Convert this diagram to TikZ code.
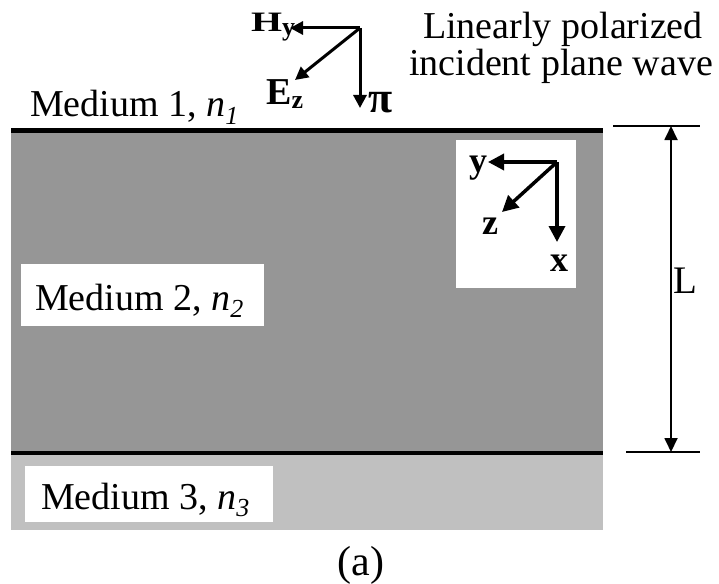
\documentclass[tikz,border=0pt]{standalone}
\usepackage{fontspec}
\setmainfont{Liberation Serif}
\usetikzlibrary{arrows.meta}
\definecolor{midgray}{RGB}{150,150,150}
\definecolor{palegray}{RGB}{192,192,192}
\newcommand{\lowidx}[1]{\raisebox{-0.2em}{\fontsize{26}{26}\selectfont #1}}
\newcommand{\bsub}[1]{\raisebox{-0.08em}{\fontsize{26}{26}\selectfont\bfseries #1}}
\begin{document}
\begin{tikzpicture}[x=1pt,y=-1pt,
  big/.style={font=\fontsize{38}{44}\selectfont, inner sep=0pt},
  lab/.style={font=\fontsize{36}{36}\selectfont\bfseries, inner sep=0pt},
  toplab/.style={font=\fontsize{38}{38}\selectfont\bfseries, inner sep=0pt},
  vec/.style={line width=3.5pt, -{Triangle[length=16pt,width=16pt]}},
  vecs/.style={line width=3pt, -{Triangle[length=13pt,width=13pt]}},
  dimline/.style={line width=1.5pt},
  dimarrow/.style={line width=1.8pt, {Triangle[length=14pt,width=13pt]}-{Triangle[length=14pt,width=13pt]}}]
\useasboundingbox (0,0) rectangle (719,583);
% media
\fill[midgray] (11,131) rectangle (603,452);
\fill[palegray] (11,452) rectangle (603,530);
\draw[line width=4.5pt] (11,130.5) -- (603,130.5);
\draw[line width=4pt] (11,452.5) -- (603,452.5);
% white label boxes
\fill[white] (21,264) rectangle (264,326);
\fill[white] (25,466) rectangle (273,522);
\fill[white] (456,140) rectangle (576,288);
% medium labels
\node[big, anchor=base west] (m1) at (30,117) {Medium 1, \textit{n\lowidx{1}}};
\node[big, anchor=base west] (m2) at (35,310) {Medium 2, \textit{n\lowidx{2}}};
\node[big, anchor=base west] (m3) at (41,509) {Medium 3, \textit{n\lowidx{3}}};
% incident wave text
\node[big, anchor=base] (t1) at (563,39) {Linearly polarized};
\node[big, anchor=base] (t2) at (561,76) {incident plane wave};
% top field axes
\coordinate (o1) at (360,28);
\coordinate (h1) at (290,28);
\coordinate (e1) at (295,80);
\coordinate (p1) at (360,108);
\draw[vecs] (o1) -- (h1);
\draw[vecs] (o1) -- (e1);
\draw[vecs] (o1) -- (p1);
\node[toplab, anchor=base west] (hy) at (251,32) {\scalebox{1.05}[0.74]{H}\bsub{y}};
\node[toplab, anchor=base west] (ez) at (266,105) {E\bsub{z}};
\node[toplab, font=\fontsize{44}{44}\selectfont\bfseries, anchor=base west] (pi) at (368,112) {π};
% coordinate axes in box
\coordinate (o2) at (557,162);
\coordinate (ya) at (488,162);
\coordinate (za) at (502,212);
\coordinate (xa) at (557,242);
\draw[vec] (o2) -- (ya);
\draw[vec] (o2) -- (za);
\draw[vec] (o2) -- (xa);
\node[lab, anchor=base] (ly) at (478,172) {y};
\node[lab, anchor=base] (lz) at (490,234) {z};
\node[lab, anchor=base] (lx) at (559,271) {x};
% thickness dimension
\coordinate (d1a) at (613,126);
\coordinate (d1b) at (700,126);
\coordinate (d2a) at (626,452);
\coordinate (d2b) at (700,452);
\coordinate (dt) at (671,126);
\coordinate (db) at (671,452);
\draw[dimline] (d1a) -- (d1b);
\draw[dimline] (d2a) -- (d2b);
\draw[dimarrow] (dt) -- (db);
\node[big, font=\fontsize{39}{39}\selectfont, anchor=base west] (L) at (673,293) {L};
% caption
\node[big, font=\fontsize{42}{42}\selectfont, anchor=base] (cap) at (361,575) {(a)};
\end{tikzpicture}
\end{document}
